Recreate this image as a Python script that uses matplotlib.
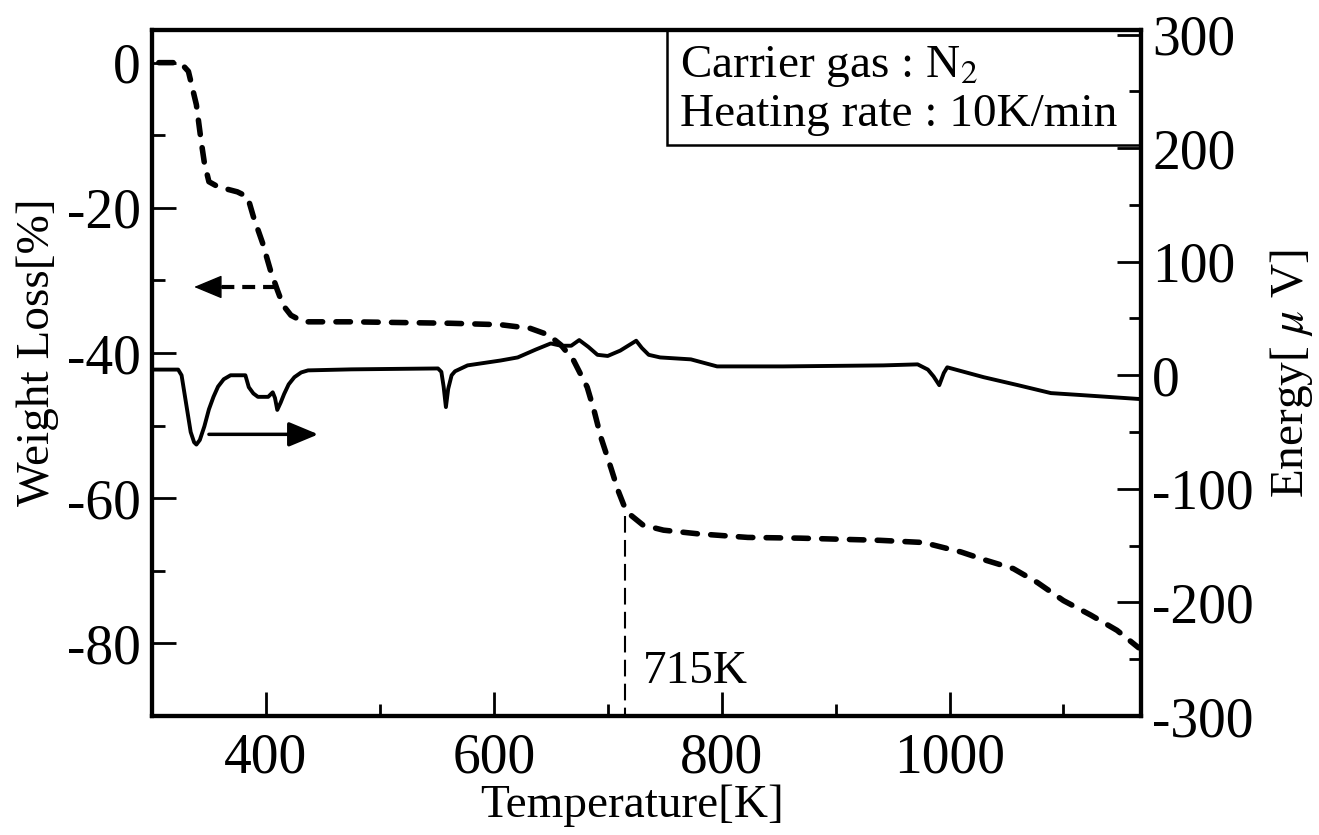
import matplotlib
matplotlib.use("Agg")
import matplotlib.pyplot as plt
from matplotlib.ticker import MultipleLocator
from matplotlib.patches import Rectangle

plt.rcParams['font.family'] = ['Liberation Serif', 'DejaVu Serif']
plt.rcParams['mathtext.fontset'] = 'stix'
plt.rcParams['axes.unicode_minus'] = False

# weight loss curve (TG, dashed, left axis)
tg_temp = [306, 325, 332, 339, 343, 346, 350, 358, 375, 384, 389, 397, 404, 410,
           415, 422, 433, 475, 562, 606, 632, 648, 659, 670, 682, 688, 694, 703,
           709, 714, 720, 731, 749, 779, 823, 869, 939, 977, 1010, 1033, 1056,
           1077, 1100, 1124, 1147, 1166]
tg_weight = [0, 0, -1.2, -5.8, -10.6, -13.8, -16.4, -17.1, -17.8, -18.5, -21.2,
             -24.8, -28.6, -31.3, -33.4, -34.8, -35.7, -35.7, -35.9, -36.1, -36.6,
             -37.5, -38.9, -41.0, -44.7, -47.9, -51.6, -55.9, -58.9, -60.9, -62.3,
             -63.7, -64.4, -64.9, -65.4, -65.5, -65.8, -66.1, -67.4, -68.6, -69.7,
             -71.6, -74.1, -76.1, -78.2, -80.6]

# energy curve (DTA, solid, right axis)
dta_temp = [301, 323, 326, 330, 334, 337, 339, 342, 346, 350, 354, 358, 363, 369,
            382, 385, 389, 393, 402, 406, 408, 410, 413, 416, 420, 425, 431, 437,
            475, 551, 554, 556, 558, 560, 563, 566, 577, 606, 621, 637, 650, 659,
            668, 675, 683, 691, 700, 711, 725, 730, 736, 746, 773, 796, 854, 942,
            972, 981, 986, 991, 995, 998, 1030, 1060, 1089, 1115, 1168]
dta_energy = [5, 5, 0, -25, -50, -59, -61, -57, -45, -30, -19, -10, -3.5, 0,
              0, -10.5, -16, -19, -19, -15, -20, -30.5, -24, -16.5, -8, -1.7, 2.5,
              4.3, 5.2, 6, 3, -10, -28, -12, 0, 3.5, 8.7, 13, 15.7, 22.7, 28, 26,
              26, 31, 25, 18, 17, 21.7, 30.4, 24, 18, 15.7, 14, 7.8, 7.8, 8.7,
              9.6, 5, -1, -8.7, 2, 7, -1.7, -8.7, -15.7, -17.4, -21]

onset_temp = 715
onset_weight = -62.5
onset_label = "715K"

# Making the canvas
fig = plt.figure(figsize=(13.19, 8.35), dpi=100)
ax1 = fig.add_axes([0.1152, 0.1425, 0.7498, 0.8216])
ax2 = ax1.twinx()

ax1.plot(tg_temp, tg_weight, color='black', lw=4, linestyle=(0, (2.6, 2.4)),
         dash_capstyle='round', solid_joinstyle='round')
ax2.plot(dta_temp, dta_energy, color='black', lw=2.8, solid_joinstyle='round')

# onset marker
ax1.plot([onset_temp, onset_temp], [onset_weight, -90], color='black', lw=1.5,
         linestyle=(0, (8, 3.5)))
ax1.text(731, -85.4, onset_label, fontsize=34, va='baseline', ha='left')

# arrows pointing to the axes
ax1.plot([409, 356], [-30.9, -30.9], color='black', lw=3, linestyle=(0, (3.1, 1.9)))
ax1.annotate('', xy=(337, -30.9), xytext=(362, -30.9),
             arrowprops=dict(arrowstyle='-|>,head_length=18,head_width=7.5',
                             mutation_scale=1, color='black', lw=1,
                             shrinkA=0, shrinkB=0))
ax1.annotate('', xy=(446, -51.2), xytext=(350, -51.2),
             arrowprops=dict(arrowstyle='-|>,head_length=18,head_width=7.5',
                             mutation_scale=1, color='black', lw=2.5,
                             shrinkA=0, shrinkB=0))

# condition box
ax1.add_patch(Rectangle((0.521, 0.832), 0.479, 0.168, transform=ax1.transAxes,
                        fill=False, lw=1.8, color='black', zorder=5))
ax1.text(0.534, 0.931, "Carrier gas : N$_2$", transform=ax1.transAxes,
         fontsize=34, va='baseline', ha='left')
ax1.text(0.534, 0.860, "Heating rate : 10K/min", transform=ax1.transAxes,
         fontsize=34, va='baseline', ha='left')

# Axis settings
ax1.set_xlim(300, 1168)
ax1.set_ylim(-90, 4.5)
ax2.set_ylim(-300, 304)

ax1.xaxis.set_major_locator(MultipleLocator(200))
ax1.xaxis.set_minor_locator(MultipleLocator(100))
ax1.yaxis.set_major_locator(MultipleLocator(20))
ax1.yaxis.set_minor_locator(MultipleLocator(10))
ax2.yaxis.set_major_locator(MultipleLocator(100))
ax2.yaxis.set_minor_locator(MultipleLocator(50))

ax1.tick_params(axis='both', which='major', direction='in', length=17, width=2,
                labelsize=40, top=False, right=False)
ax1.tick_params(axis='both', which='minor', direction='in', length=9, width=2,
                top=False, right=False)
ax1.tick_params(axis='x', which='major', pad=12)
ax1.tick_params(axis='y', which='major', pad=8)
ax2.tick_params(axis='y', which='major', direction='in', length=17, width=2,
                labelsize=40, pad=8)
ax2.tick_params(axis='y', which='minor', direction='in', length=9, width=2)

for ax in (ax1, ax2):
    for sp in ax.spines.values():
        sp.set_linewidth(3)

ax1.set_xlabel("Temperature[K]", fontsize=34)
ax1.set_ylabel("Weight Loss[%]", fontsize=34)
ax2.set_ylabel("Energy[ $\\mu$ V]", fontsize=34, rotation=90)
ax1.xaxis.set_label_coords(0.485, -0.1)
ax1.yaxis.set_label_coords(-0.094, 0.53)
ax2.yaxis.set_label_coords(1.128, 0.50)

fig.savefig("out.png", dpi=100)
